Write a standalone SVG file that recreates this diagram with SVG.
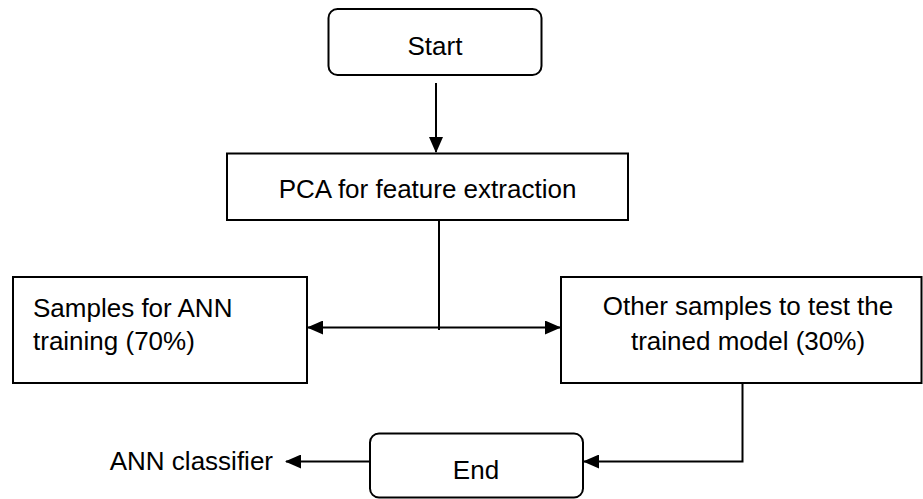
<svg xmlns="http://www.w3.org/2000/svg" width="923" height="499" viewBox="0 0 923 499">
<defs>
<style>
.box{fill:#fff;stroke:#000;stroke-width:2}
.conn{fill:none;stroke:#000;stroke-width:2}
text{font-family:"Liberation Sans",Arial,sans-serif;font-size:26px;fill:#000}
.c{text-anchor:middle}
</style>
<marker id="ah" markerWidth="16" markerHeight="14" refX="15" refY="7" orient="auto" markerUnits="userSpaceOnUse">
<path d="M0,0 L16,7 L0,14 Z" fill="#000"/>
</marker>
</defs>
<rect width="923" height="499" fill="#fff"/>
<g id="connectors">
<line class="conn" x1="436" y1="83" x2="436" y2="152" marker-end="url(#ah)"/>
<line class="conn" x1="439" y1="220" x2="439" y2="330"/>
<line class="conn" x1="439" y1="327.5" x2="308" y2="327.5" marker-end="url(#ah)"/>
<line class="conn" x1="439" y1="327.5" x2="560" y2="327.5" marker-end="url(#ah)"/>
<polyline class="conn" points="742.5,383 742.5,461.5 584,461.5" marker-end="url(#ah)"/>
<line class="conn" x1="370" y1="461.5" x2="286" y2="461.5" marker-end="url(#ah)"/>
</g>
<g id="start">
<rect class="box" x="328.5" y="9" width="213" height="66" rx="9"/>
<text class="c" x="435" y="55">Start</text>
</g>
<g id="pca">
<rect class="box" x="227" y="153.5" width="401" height="66.5"/>
<text class="c" x="427.5" y="198">PCA for feature extraction</text>
</g>
<g id="train">
<rect class="box" x="13" y="277" width="294" height="106"/>
<text x="33" y="317">Samples for ANN</text>
<text x="33" y="350">training (70%)</text>
</g>
<g id="test">
<rect class="box" x="561" y="277" width="360.5" height="106"/>
<text class="c" x="748" y="315">Other samples to test the</text>
<text class="c" x="748" y="350">trained model (30%)</text>
</g>
<g id="end">
<rect class="box" x="370" y="433.5" width="213" height="64" rx="9"/>
<text class="c" x="476" y="479">End</text>
</g>
<g id="classifier">
<text x="273" y="470" text-anchor="end">ANN classifier</text>
</g>
</svg>
